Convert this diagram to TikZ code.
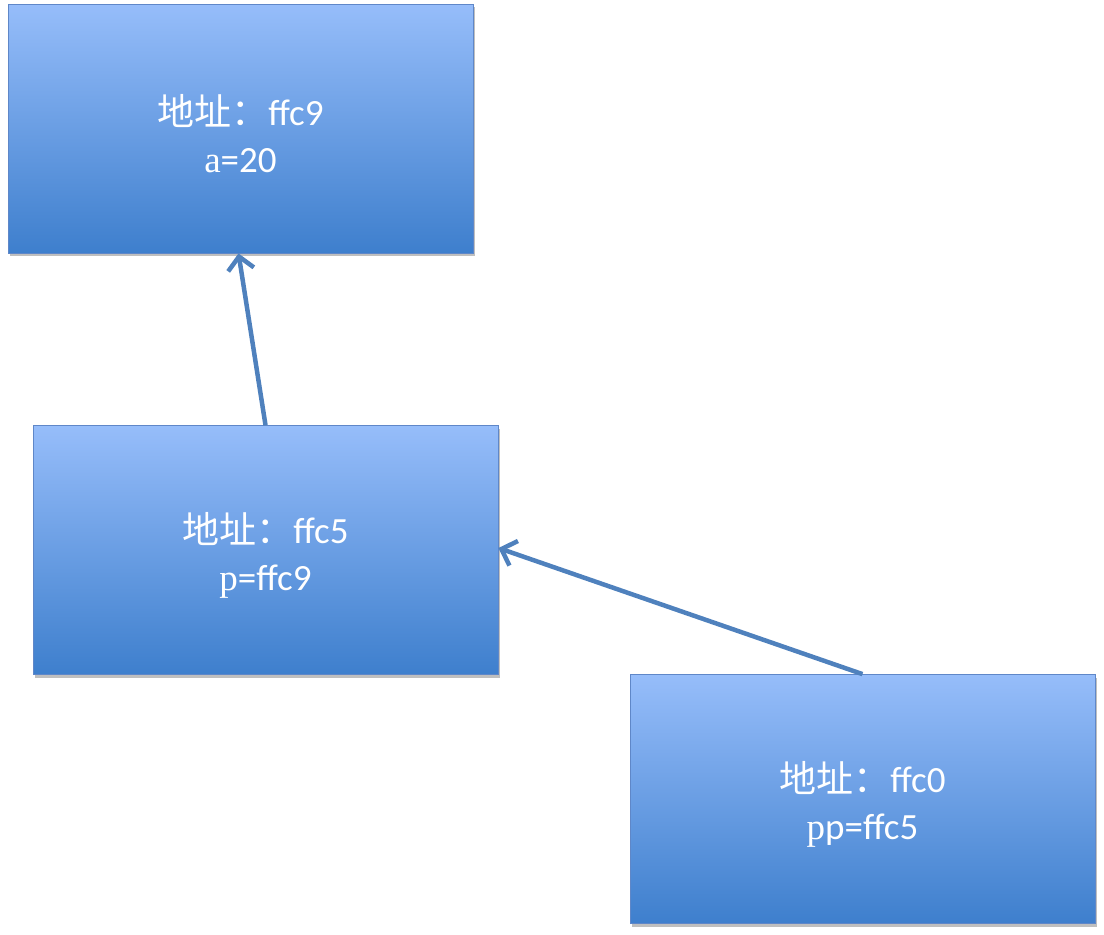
\documentclass[tikz,border=0pt]{standalone}
\usepackage{fontspec}
\setmainfont{Carlito}
\newfontfamily\cjk{Noto Sans CJK SC}
\newfontfamily\serifl{Liberation Serif}
\usetikzlibrary{arrows.meta,shadows}
\definecolor{boxtop}{RGB}{150,189,250}
\definecolor{boxbot}{RGB}{62,127,205}
\definecolor{boxline}{RGB}{95,135,200}
\definecolor{arrowc}{RGB}{79,129,189}
\begin{document}
\begin{tikzpicture}[x=1pt,y=-1pt,
  membox/.style={rectangle, minimum width=465pt, minimum height=249pt,
    top color=boxtop, bottom color=boxbot, draw=boxline, line width=0.8pt,
    text=white, align=center, inner sep=0pt,
    font=\fontsize{37pt}{47pt}\selectfont,
    drop shadow={shadow xshift=2pt, shadow yshift=-3pt, opacity=0.25, fill=black}},
  boxtext/.style={text=white, align=center, inner sep=0pt,
    font=\fontsize{37pt}{47pt}\selectfont},
  link/.style={draw=arrowc, line width=4.5pt,
    -{Straight Barb[length=13pt,width=26pt,line width=4.5pt]}}]
\useasboundingbox (0,0) rectangle (1104,935);
\node[membox] (a) at (240.5,128.5) {};
\node[boxtext] (at) at ([yshift=-5pt]a.center) {{\cjk 地址：}ffc9\\{\serifl a}=20};
\node[membox] (p) at (265.5,550) {};
\node[boxtext] (pt) at ([yshift=-5pt]p.center) {{\cjk 地址：}ffc5\\{\serifl p}=ffc9};
\node[membox] (pp) at (862.5,799) {};
\node[boxtext] (ppt) at ([yshift=-5pt]pp.center) {{\cjk 地址：}ffc0\\{\serifl p}p=ffc5};
\draw[link] (p.north) -- ([xshift=-2pt]a.south);
\draw[link] (pp.north) -- ([yshift=2pt]p.east);
\end{tikzpicture}
\end{document}
